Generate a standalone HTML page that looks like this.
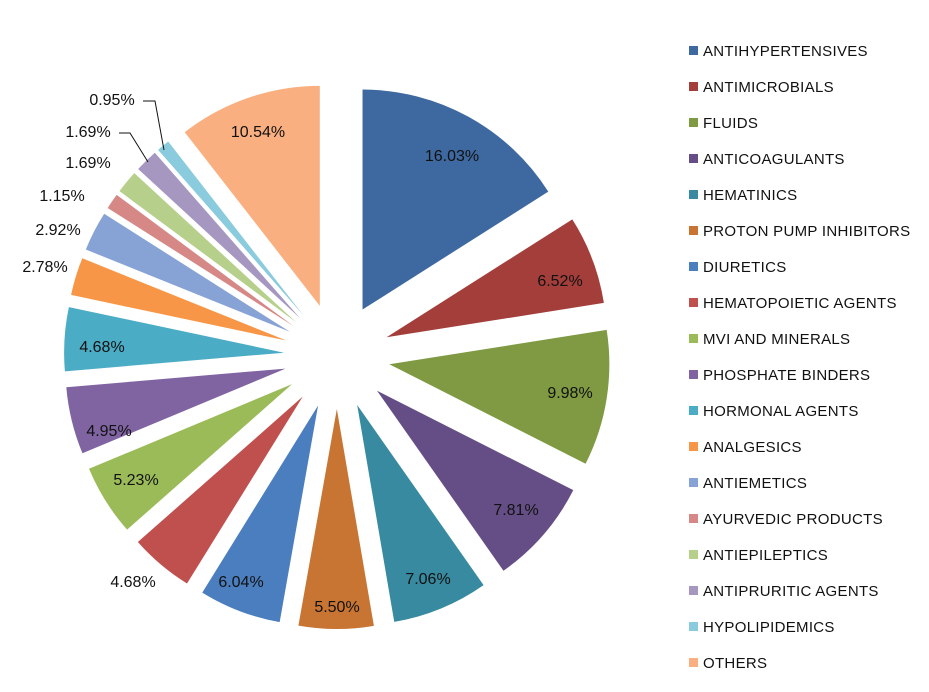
<!DOCTYPE html>
<html><head><meta charset="utf-8"><style>
body{margin:0;background:#fff;}
#c{position:relative;width:929px;height:692px;overflow:hidden;font-family:"Liberation Sans",sans-serif;}
.l{position:absolute;font-size:16px;color:#111;transform:translate(-50%,-50%);white-space:nowrap;}
.g{position:absolute;left:689px;font-size:15px;letter-spacing:0.3px;color:#111;white-space:nowrap;}
.g i{display:inline-block;width:9px;height:9px;margin-right:5px;vertical-align:1px;}
</style></head><body><div id="c">
<svg id="s" width="929" height="692" style="position:absolute;left:0;top:0"></svg>
</div>
<script>
var d=[["ANTIHYPERTENSIVES",16.03,"#3E69A0",452,157],["ANTIMICROBIALS",6.52,"#A33E3B",560,282],["FLUIDS",9.98,"#7F9A42",570,394],["ANTICOAGULANTS",7.81,"#654E86",516,511],["HEMATINICS",7.06,"#378A9F",428,580],["PROTON PUMP INHIBITORS",5.50,"#C87533",337,608],["DIURETICS",6.04,"#4A7EBF",241,583],["HEMATOPOIETIC AGENTS",4.68,"#C0504D",133,583],["MVI AND MINERALS",5.23,"#9BBB59",136,481],["PHOSPHATE BINDERS",4.95,"#8064A2",109,432],["HORMONAL AGENTS",4.68,"#4BACC6",102,348],["ANALGESICS",2.78,"#F79646",45,268],["ANTIEMETICS",2.92,"#87A3D5",58,231],["AYURVEDIC PRODUCTS",1.15,"#D58886",62,197],["ANTIEPILEPTICS",1.69,"#B6D08C",88,164],["ANTIPRURITIC AGENTS",1.69,"#A697C0",88,133],["HYPOLIPIDEMICS",0.95,"#8ACCDD",112,101],["OTHERS",10.54,"#F9AF7F",258,133]];
var tot=0;d.forEach(function(r){tot+=r[1]});
var cx=337,cy=356,R=220,D=53,a=0,s='',c=document.getElementById('c');
function P(t,r,ox,oy){return [ox+r*Math.sin(t),oy-r*Math.cos(t)]}
d.forEach(function(r,i){
 var sw=r[1]/tot*2*Math.PI,m=a+sw/2,ox=cx+D*Math.sin(m),oy=cy-D*Math.cos(m);
 var p1=P(a,R,ox,oy),p2=P(a+sw,R,ox,oy);
 s+='<path d="M'+ox+' '+oy+'L'+p1[0]+' '+p1[1]+'A'+R+' '+R+' 0 '+(sw>Math.PI?1:0)+' 1 '+p2[0]+' '+p2[1]+'Z" fill="'+r[2]+'"/>';
 a+=sw;
 var e=document.createElement('div');e.className='l';e.style.left=r[3]+'px';e.style.top=r[4]+'px';e.textContent=r[1].toFixed(2)+'%';c.appendChild(e);
 var g=document.createElement('div');g.className='g';g.style.top=(43+i*36)+'px';g.innerHTML='<i style="background:'+r[2]+'"></i>'+r[0];c.appendChild(g);
});
s+='<polyline points="143,101 155,101 164,150" fill="none" stroke="#111" stroke-width="1"/>';
s+='<polyline points="119,133 130,133 148,162" fill="none" stroke="#111" stroke-width="1"/>';
document.getElementById('s').innerHTML=s;
</script>
</body></html>
